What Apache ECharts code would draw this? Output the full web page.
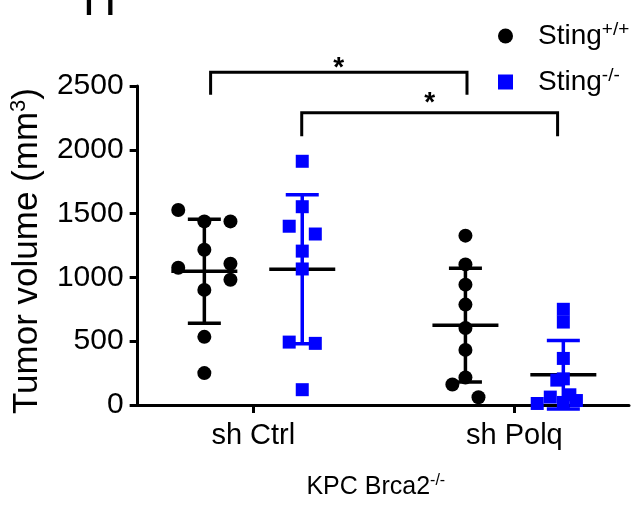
<!DOCTYPE html>
<html>
<head>
<meta charset="utf-8">
<script src="https://cdn.jsdelivr.net/npm/echarts@6/dist/echarts.min.js"></script>
<style>
html,body{margin:0;padding:0;background:#fff;}
#chart{width:631px;height:506px;}
</style>
</head>
<body>
<div id="chart"></div>
<script>
// ---- data ----
const categories = ['sh Ctrl', 'sh Polq'];
const groupNames = ['Sting+/+', 'Sting-/-'];
const yTicks = [0, 500, 1000, 1500, 2000, 2500];

// tumor volumes (mm^3) per group
const ctrlWT  = [1528, 1439, 1439, 1217, 1076, 1107, 982, 902, 534, 250];
const ctrlKO  = [1910, 1554, 1401, 1340, 1206, 1066, 493, 483, 120];
const polqWT  = [1327, 1102, 943, 787, 603, 432, 215, 161, 61];
const polqKO  = [750, 650, 365, 205, 195, 80, 62, 35, 20, 12];

// horizontal scatter of the dots (fraction of category spacing)
const ctrlWTJitter = [-0.1, 0, 0.1, 0, -0.1, 0.1, 0.1, 0, 0, 0];
const ctrlKOJitter = [0, 0, -0.05, 0.05, 0, 0, -0.05, 0.05, 0];
const polqWTJitter = [0, 0, 0, 0, 0, 0, 0, -0.05, 0.05];
const polqKOJitter = [0, 0, 0, 0, -0.025, 0.025, -0.05, 0.05, 0, -0.1];

// significance brackets: categories/groups joined, bracket top, leg end, star level
const bracketFrom   = [[0, 0], [0, 1]];
const bracketTo     = [[1, 0], [1, 1]];
const bracketTop    = [2607, 2290];
const bracketLeg    = [2431, 2106];
const bracketStarY  = [2638, 2362];
const bracketLabels = ['*', '*'];

// ---- layout / style ----
const colors = ['#000000', '#0000ff'];
const groupOffset = 0.1875;
const FONT = '"Liberation Sans", Arial, sans-serif';

function groupX(cat, g) { return cat + 1 + (g === 0 ? -groupOffset : groupOffset); }

const groups = [
  { cat: 0, g: 0, vals: ctrlWT, jit: ctrlWTJitter },
  { cat: 0, g: 1, vals: ctrlKO, jit: ctrlKOJitter },
  { cat: 1, g: 0, vals: polqWT, jit: polqWTJitter },
  { cat: 1, g: 1, vals: polqKO, jit: polqKOJitter }
];

function stats(a) {
  const n = a.length;
  const m = a.reduce((s, v) => s + v, 0) / n;
  const sd = Math.sqrt(a.reduce((s, v) => s + (v - m) * (v - m), 0) / (n - 1));
  return [m, sd];
}

const scatterData = [[], []];
const errData = [];
groups.forEach(gr => {
  const cx = groupX(gr.cat, gr.g);
  gr.vals.forEach((v, i) => scatterData[gr.g].push([cx + gr.jit[i], v]));
  const [m, sd] = stats(gr.vals);
  errData.push([cx, m, sd, gr.g]);
});

const legShift = [[0.024, 0.006], [-0.002, -0.022]];
const bracketData = bracketFrom.map((f, i) => [
  groupX(f[0], f[1]) + legShift[i][0],
  groupX(bracketTo[i][0], bracketTo[i][1]) + legShift[i][1],
  bracketTop[i], bracketLeg[i], bracketStarY[i], i
]);

const chart = echarts.init(document.getElementById('chart'), null, { renderer: 'canvas' });

const option = {
  animation: false,
  backgroundColor: '#fff',
  textStyle: { fontFamily: FONT },
  grid: { left: 136, right: 2, top: 86, bottom: 93, containLabel: false },
  legend: {
    orient: 'vertical',
    left: 493,
    top: 15,
    itemWidth: 15,
    itemHeight: 15,
    itemGap: 14,
    data: [
      { name: groupNames[0], icon: 'circle' },
      { name: groupNames[1], icon: 'rect' }
    ],
    formatter: function (name) {
      const sup = name.replace('Sting', '');
      return '{sp|}Sting{sup|' + sup + '}';
    },
    textStyle: {
      fontFamily: FONT, fontSize: 28, color: '#000', lineHeight: 32,
      rich: {
        sp: { width: 20, fontSize: 28, lineHeight: 32 },
        sup: { fontFamily: FONT, fontSize: 19, color: '#000', verticalAlign: 'top', lineHeight: 19 }
      }
    }
  },
  xAxis: {
    type: 'value',
    min: 0.557,
    max: 2.439,
    name: 'KPC Brca2{sup|-/-}',
    nameLocation: 'middle',
    nameGap: 68,
    nameTextStyle: {
      fontFamily: FONT, fontSize: 25, color: '#000', lineHeight: 28,
      padding: [0, 15, 0, 0],
      rich: { sup: { fontFamily: FONT, fontSize: 16, color: '#000', verticalAlign: 'top', lineHeight: 16 } }
    },
    axisLine: { show: true, lineStyle: { color: '#000', width: 3 } },
    axisTick: { show: true, length: 8, lineStyle: { color: '#000', width: 3 }, customValues: [1, 2] },
    axisLabel: {
      customValues: [1, 2],
      formatter: v => categories[Math.round(v) - 1],
      fontFamily: FONT, fontSize: 29, color: '#000', margin: 16
    },
    splitLine: { show: false }
  },
  yAxis: {
    type: 'value',
    min: yTicks[0],
    max: yTicks[yTicks.length - 1],
    interval: 500,
    name: 'Tumor volume (mm{sup|3})',
    nameLocation: 'middle',
    nameRotate: 90,
    nameGap: 80,
    nameTextStyle: {
      fontFamily: FONT, fontSize: 35, color: '#000', lineHeight: 38,
      padding: [0, 11, 0, 0],
      rich: { sup: { fontFamily: FONT, fontSize: 22, color: '#000', verticalAlign: 'top', lineHeight: 22 } }
    },
    axisLine: { show: true, lineStyle: { color: '#000', width: 3 } },
    axisTick: { show: true, length: 8, lineStyle: { color: '#000', width: 3 } },
    axisLabel: { fontFamily: FONT, fontSize: 30, color: '#000', margin: 14, formatter: v => String(v) },
    splitLine: { show: false }
  },
  graphic: [
    {
      type: 'text', left: 83, top: -21,
      style: { text: 'H', font: '46px ' + FONT, fill: '#000' }
    }
  ],
  series: [
    {
      type: 'custom',
      name: 'err',
      silent: true,
      z: 2,
      clip: false,
      data: errData,
      renderItem: function (params, api) {
        const x = api.value(0), m = api.value(1), s = api.value(2);
        const c = colors[api.value(3)];
        const pm = api.coord([x, m]);
        const pt = api.coord([x, m + s]);
        const pb = api.coord([x, m - s]);
        const capW = 16.5, meanW = 33, lw = 3.5;
        return {
          type: 'group',
          children: [
            { type: 'line', shape: { x1: pt[0], y1: pt[1], x2: pb[0], y2: pb[1] }, style: { stroke: c, lineWidth: lw } },
            { type: 'line', shape: { x1: pt[0] - capW, y1: pt[1], x2: pt[0] + capW, y2: pt[1] }, style: { stroke: c, lineWidth: lw } },
            { type: 'line', shape: { x1: pb[0] - capW, y1: pb[1], x2: pb[0] + capW, y2: pb[1] }, style: { stroke: c, lineWidth: lw } },
            { type: 'line', shape: { x1: pm[0] - meanW, y1: pm[1], x2: pm[0] + meanW, y2: pm[1] }, style: { stroke: '#000', lineWidth: lw } }
          ]
        };
      }
    },
    {
      type: 'scatter',
      name: groupNames[0],
      symbol: 'circle',
      symbolSize: 14,
      z: 3,
      itemStyle: { color: colors[0], opacity: 1 },
      data: scatterData[0]
    },
    {
      type: 'scatter',
      name: groupNames[1],
      symbol: 'rect',
      symbolSize: 13,
      z: 3,
      itemStyle: { color: colors[1], opacity: 1 },
      data: scatterData[1]
    },
    {
      type: 'custom',
      name: 'brackets',
      silent: true,
      clip: false,
      z: 4,
      data: bracketData,
      renderItem: function (params, api) {
        const x1 = api.value(0), x2 = api.value(1), yt = api.value(2), yb = api.value(3), ys = api.value(4);
        const a = api.coord([x1, yt]), b = api.coord([x2, yt]);
        const a2 = api.coord([x1, yb]), b2 = api.coord([x2, yb]);
        const s = api.coord([(x1 + x2) / 2, ys]);
        const lw = 3;
        return {
          type: 'group',
          children: [
            { type: 'polyline', shape: { points: [[a2[0], a2[1]], [a[0], a[1]], [b[0], b[1]], [b2[0], b2[1]]] }, style: { stroke: '#000', lineWidth: lw, fill: null } },
            { type: 'text', x: s[0], y: s[1], style: { text: bracketLabels[api.value(5)], font: 'bold 28px ' + FONT, fill: '#000', align: 'center', verticalAlign: 'middle' } }
          ]
        };
      }
    }
  ]
};

chart.setOption(option);
</script>
</body>
</html>
